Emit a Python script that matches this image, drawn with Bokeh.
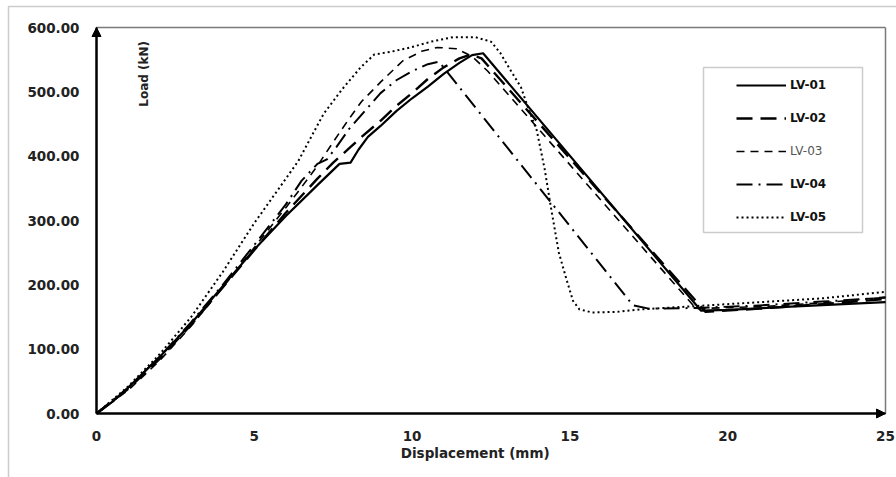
import math

from bokeh.plotting import figure
from bokeh.models import (Range1d, FixedTicker, NumeralTickFormatter, Legend, LegendItem,
                          Arrow, NormalHead, Label, BoxAnnotation)
from bokeh.embed import file_html
from bokeh.resources import INLINE

# Load-displacement curves of the five specimens (displacement in mm, load in kN)
lv01_x = [0, 0.5, 1, 2, 3, 4, 5, 6, 7, 7.7, 8.05, 8.3, 8.6, 9.0, 9.5, 10, 10.5, 11, 11.5, 11.9, 12.25, 19.15, 20, 22, 25]
lv01_y = [0, 18, 40, 88, 140, 198, 255, 307, 355, 388, 390, 410, 430, 447, 470, 490, 508, 528, 545, 557, 560, 160, 161, 166, 173]

lv02_x = [0, 1, 2, 3, 4, 5, 6, 7, 7.5, 8, 8.4, 9, 9.5, 10, 10.5, 11, 11.5, 11.85, 12.2, 19.3, 21, 23, 25]
lv02_y = [0, 38, 85, 138, 196, 254, 312, 365, 390, 412, 430, 455, 478, 498, 520, 538, 552, 558, 552, 158, 163, 170, 178]

lv03_x = [0, 1, 2, 3, 4, 5, 6, 6.5, 7, 7.5, 8, 8.4, 9, 9.7, 10.3, 10.8, 11.4, 11.9, 12.4, 19.0, 21, 23, 25]
lv03_y = [0, 36, 82, 136, 196, 258, 320, 352, 385, 422, 458, 485, 515, 548, 563, 569, 567, 555, 532, 163, 166, 172, 181]

lv04_x = [0, 1, 2, 3, 4, 5, 6, 6.5, 7, 7.3, 7.6, 8, 8.5, 9, 9.5, 10, 10.5, 10.85, 17.0, 17.5, 19, 21, 23, 25]
lv04_y = [0, 40, 88, 142, 200, 262, 325, 362, 388, 395, 414, 442, 470, 498, 518, 532, 543, 547, 168, 163, 164, 168, 174, 180]

lv05_x = [0, 1, 2, 3, 4, 5, 6, 6.4, 7, 7.2, 7.8, 8.37, 8.8, 9.3, 9.95, 10.6, 11.3, 12.0, 12.5, 12.8, 13.1, 13.45,
          13.7, 13.95, 14.2, 14.4, 14.65, 14.9, 15.1, 15.3, 15.7, 16.5, 17.3, 19, 21, 23, 25]
lv05_y = [0, 42, 92, 150, 220, 296, 365, 393, 448, 466, 505, 538, 558, 562, 569, 578, 585, 585, 578, 560, 535, 507,
          472, 440, 380, 320, 250, 207, 175, 162, 157, 158, 162, 167, 173, 179, 189]

series_names = ["LV-01", "LV-02", "LV-03", "LV-04", "LV-05"]
x_ticks = [0, 5, 10, 15, 20, 25]
y_ticks = [0, 100, 200, 300, 400, 500, 600]

FONT = "DejaVu Sans"
W, H = 896, 477
# pixel placement of the plotting area inside the canvas
AREA_LEFT, AREA_RIGHT, AREA_TOP, AREA_BOTTOM = 96, 885, 27, 413

x0, x1 = x_ticks[0], x_ticks[-1]
y0, y1 = y_ticks[0], y_ticks[-1]
kx = (AREA_RIGHT - AREA_LEFT) / (x1 - x0)
ky = (AREA_BOTTOM - AREA_TOP) / (y1 - y0)

# the frame fills the canvas; the axes sit at zero through fixed_location
p = figure(width=W, height=H, output_backend="svg", toolbar_location=None,
           x_range=Range1d(x0 - AREA_LEFT / kx, x1 + (W - AREA_RIGHT) / kx),
           y_range=Range1d(y0 - (H - AREA_BOTTOM) / ky, y1 + AREA_TOP / ky),
           min_border=0, min_border_left=0, min_border_right=0, min_border_top=0, min_border_bottom=0,
           background_fill_color="white", border_fill_color="white")

p.xgrid.visible = False
p.ygrid.visible = False
p.outline_line_color = None

for ax in (p.xaxis[0], p.yaxis[0]):
    ax.fixed_location = 0
    ax.axis_line_color = "black"
    ax.axis_line_width = 2
    ax.major_tick_line_color = None
    ax.minor_tick_line_color = None
    ax.major_tick_out = 0
    ax.major_tick_in = 0
    ax.minor_tick_out = 0
    ax.major_label_text_font = FONT
    ax.major_label_text_font_style = "bold"
    ax.major_label_text_font_size = "13.5px"
    ax.major_label_text_color = "#222222"

p.xaxis.ticker = FixedTicker(ticks=x_ticks)
p.yaxis.ticker = FixedTicker(ticks=y_ticks)
p.xaxis.bounds = (x0, x1)
p.yaxis.bounds = (y0, y1)
p.yaxis.formatter = NumeralTickFormatter(format="0.00")
p.xaxis.major_label_standoff = 17
p.yaxis.major_label_standoff = 17

# thin frame along the top and right of the plotting area
p.segment(x0=[x0, x1], y0=[y1, y0], x1=[x1, x1], y1=[y1, y1], line_color="#7a7a7a", line_width=1.5)

styles = [
    dict(line_dash="solid", line_width=2.2),
    dict(line_dash="16 8", line_width=2.4),
    dict(line_dash="8 6", line_width=1.6),
    dict(line_dash="16 6 2 6", line_width=2.0),
    dict(line_dash="2 3", line_width=2.0),
]
data = [(lv01_x, lv01_y), (lv02_x, lv02_y), (lv03_x, lv03_y), (lv04_x, lv04_y), (lv05_x, lv05_y)]

renderers = []
for (xs, ys), st in zip(data, styles):
    r = p.line(xs, ys, line_color="black", line_join="round", **st)
    renderers.append(r)

# axis arrows
p.add_layout(Arrow(end=NormalHead(size=9, fill_color="black", line_color="black"),
                   x_start=x0, y_start=y0, x_end=x0, y_end=y1, line_width=2, line_color="black"))
p.add_layout(Arrow(end=NormalHead(size=9, fill_color="black", line_color="black"),
                   x_start=x0, y_start=y0, x_end=x1, y_end=y0, line_width=2, line_color="black"))

# axis titles
p.add_layout(Label(x=12.0, y=-61, text="Displacement (mm)", text_font=FONT, text_font_style="bold",
                   text_font_size="13.5px", text_color="#222222", text_align="center", text_baseline="middle"))
p.add_layout(Label(x=1.49, y=528, text="Load (kN)", angle=math.pi / 2, text_font=FONT, text_font_style="bold",
                   text_font_size="12px", text_color="#222222", text_align="center", text_baseline="middle"))

# legend frame
p.add_layout(BoxAnnotation(left=703, right=862, top=67, bottom=232,
                           left_units="canvas", right_units="canvas", top_units="canvas", bottom_units="canvas",
                           fill_color=None, fill_alpha=0, line_color="#555555", line_width=1.5))

# legend rows: 33 px pitch, first row centred at y=85 of the canvas
ROW0, PITCH, ROW_H = 85, 33, 20


def add_legend(idx, style, color):
    last = idx[-1]
    bottom = ROW0 + PITCH * last + ROW_H / 2
    lg = Legend(items=[LegendItem(label=series_names[i], renderers=[renderers[i]]) for i in idx],
                location=(736, H - bottom), orientation="vertical", glyph_width=50, glyph_height=ROW_H,
                label_height=ROW_H, spacing=PITCH - ROW_H, padding=0, margin=0, border_line_color=None,
                background_fill_alpha=0, label_standoff=4, label_text_font=FONT,
                label_text_font_style=style, label_text_font_size="12px", label_text_color=color)
    p.add_layout(lg)


add_legend([0, 1], "bold", "#111111")
add_legend([2], "normal", "#555555")
add_legend([3, 4], "bold", "#111111")

# outer border of the chart
p.add_layout(BoxAnnotation(left=8, right=W + 20, top=6, bottom=H + 20,
                           left_units="canvas", right_units="canvas", top_units="canvas", bottom_units="canvas",
                           fill_color=None, fill_alpha=0, line_color="#555555", line_width=1.5))

open("out.html", "w").write(file_html(p, INLINE))
